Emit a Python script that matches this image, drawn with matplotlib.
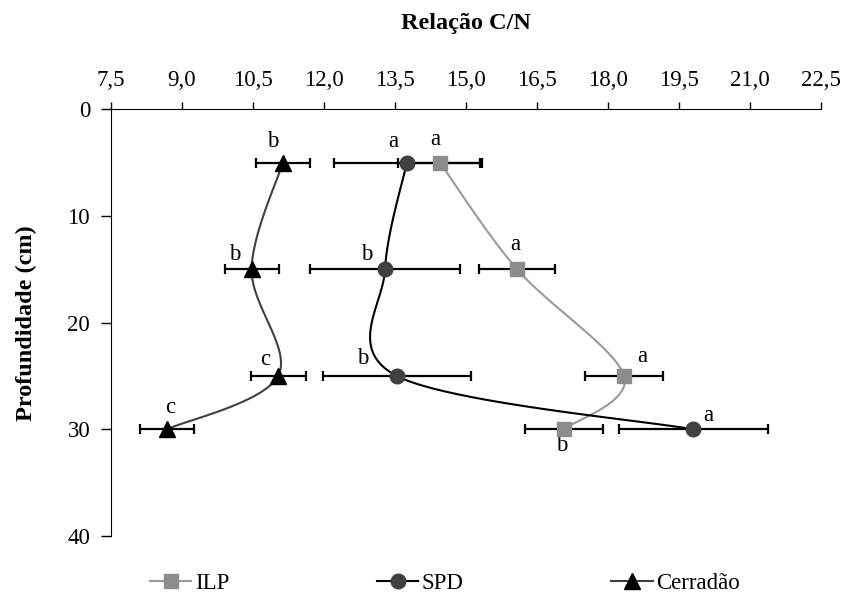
import numpy as np
import matplotlib.pyplot as plt
from matplotlib.lines import Line2D

plt.rcParams['font.family'] = ['Liberation Serif', 'DejaVu Serif']

# ==========================================
# DADOS
# ==========================================
profundidade = [5, 15, 25, 30]

ilp = [14.45, 16.08, 18.34, 17.07]
ilp_err = [0.89, 0.81, 0.82, 0.82]
ilp_letras = ['a', 'a', 'a', 'b']

spd = [13.75, 13.29, 13.54, 19.80]
spd_err = [1.54, 1.58, 1.57, 1.57]
spd_letras = ['a', 'b', 'b', 'a']

cerradao = [11.13, 10.47, 11.03, 8.68]
cerradao_err = [0.57, 0.57, 0.58, 0.57]
cerradao_letras = ['b', 'b', 'c', 'c']

xticks = np.arange(7.5, 22.6, 1.5)
yticks = [0, 10, 20, 30, 40]

# deslocamento das letras (px: dx, dy)
desloc_ilp = [(-5, 23), (-2, 25), (18, 19), (-2, -16)]
desloc_spd = [(-14, 21), (-18, 15), (-34, 17), (15, 14)]
desloc_cerradao = [(-10, 21), (-17, 15), (-13, 16), (3, 22)]


# ==========================================
# SUAVIZAÇÃO (tipo Excel)
# ==========================================
def suavizar(x, y, n=40):
    p = np.column_stack([x, y]).astype(float)
    pts = np.vstack([p[0], p, p[-1]])
    out = []
    for i in range(1, len(pts) - 2):
        p0, p1, p2, p3 = pts[i - 1], pts[i], pts[i + 1], pts[i + 2]
        c1 = p1 + (p2 - p0) / 6
        c2 = p2 - (p3 - p1) / 6
        t = np.linspace(0, 1, n)[:, None]
        b = ((1 - t) ** 3) * p1 + 3 * ((1 - t) ** 2) * t * c1 + 3 * (1 - t) * t ** 2 * c2 + t ** 3 * p2
        out.append(b)
    out = np.vstack(out)
    return out[:, 0], out[:, 1]


# ==========================================
# GRÁFICO
# ==========================================
fig = plt.figure(figsize=(8.44, 5.97), dpi=100)
ax = fig.add_axes([111 / 844, 1 - 536 / 597, 710 / 844, 426.7 / 597])

series = [
    (ilp, ilp_err, ilp_letras, desloc_ilp, 's', 10, '#8c8c8c', '#9a9a9a', 'ILP'),
    (spd, spd_err, spd_letras, desloc_spd, 'o', 10.5, '#404040', '#000000', 'SPD'),
    (cerradao, cerradao_err, cerradao_letras, desloc_cerradao, '^', 11, '#000000', '#404040', 'Cerradão'),
]

handles = []
for vals, errs, letras, desloc, mk, ms, cor_mk, cor_linha, nome in series:
    xs, ys = suavizar(vals, profundidade)
    ax.plot(xs, ys, color=cor_linha, lw=1.5, zorder=2)
    ax.errorbar(vals, profundidade, xerr=errs, fmt='none', ecolor='black',
                elinewidth=1.6, capsize=3.8, capthick=1.6, zorder=3)
    ax.plot(vals, profundidade, linestyle='none', marker=mk, markersize=ms,
            color=cor_mk, zorder=4)
    for v, p, l, (dx, dy) in zip(vals, profundidade, letras, desloc):
        ax.annotate(l, (v, p), xytext=(dx * 0.72, dy * 0.72), textcoords='offset points',
                    ha='center', va='center', fontsize=16.5)
    handles.append(Line2D([], [], color=cor_linha, lw=1.5, marker=mk,
                          markersize=ms, markerfacecolor=cor_mk,
                          markeredgecolor=cor_mk, label=nome))

ax.set_xlim(7.5, 22.5)
ax.set_ylim(40, 0)
ax.xaxis.tick_top()
ax.xaxis.set_label_position('top')
ax.set_xticks(xticks)
ax.set_xticklabels([f"{t:.1f}".replace('.', ',') for t in xticks])
ax.set_yticks(yticks)
ax.tick_params(axis='both', labelsize=16.5, direction='out', width=1)
ax.tick_params(axis='x', length=5, pad=8)
ax.tick_params(axis='y', length=7, pad=8)
for s in ['right', 'bottom']:
    ax.spines[s].set_visible(False)
ax.set_xlabel("Relação C/N", fontsize=17.5, fontweight='bold', labelpad=30)
ax.set_ylabel("Profundidade (cm)", fontsize=17.5, fontweight='bold', labelpad=22)

fig.legend(handles=handles, loc='center left', bbox_to_anchor=(150 / 844, 1 - 583 / 597),
           ncol=3, frameon=False, fontsize=16.5, handlelength=1.8,
           handletextpad=0.15, columnspacing=6.45, borderpad=0, borderaxespad=0)

plt.savefig("out.png", dpi=100)
